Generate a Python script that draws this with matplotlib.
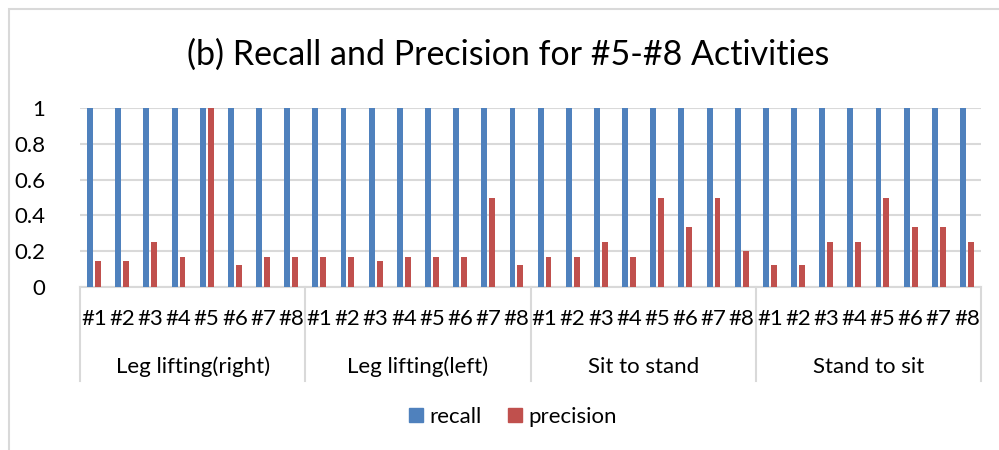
import matplotlib.pyplot as plt
import numpy as np
from matplotlib.patches import Rectangle, Patch

# data
groups = ["Leg lifting(right)", "Leg lifting(left)", "Sit to stand", "Stand to sit"]
subjects = ["#1", "#2", "#3", "#4", "#5", "#6", "#7", "#8"]
recall = [1.0] * 32
precision = [
    0.143, 0.143, 0.25, 0.167, 1.0, 0.125, 0.167, 0.167,   # leg lifting (right)
    0.167, 0.167, 0.143, 0.167, 0.167, 0.167, 0.5, 0.125,  # leg lifting (left)
    0.167, 0.167, 0.25, 0.167, 0.5, 0.333, 0.5, 0.2,       # sit to stand
    0.125, 0.125, 0.25, 0.25, 0.5, 0.333, 0.333, 0.25,     # stand to sit
]
yticks = [0, 0.2, 0.4, 0.6, 0.8, 1]

BLUE = "#4F81BD"
RED = "#C0504D"
GRID = "#D9D9D9"

plt.rcParams["font.family"] = ["Lato", "DejaVu Sans"]


def main():
    W, H = 999, 450
    fig = plt.figure(figsize=(W / 100, H / 100), dpi=100)

    # chart border (only left/top visible in the crop)
    fig.patches.append(Rectangle((9 / W, -0.1), 1.2, (H - 9) / H + 0.1,
                                 transform=fig.transFigure, fill=False,
                                 edgecolor=GRID, lw=1.5))

    ax = fig.add_axes([80 / W, 1 - 287 / H, 901 / W, 179 / H])

    n = len(recall)
    x = np.arange(n)
    bw = 0.21
    ax.bar(x - 0.14, recall, bw, color=BLUE, zorder=3)
    ax.bar(x + 0.14, precision, bw, color=RED, zorder=3)

    ax.set_xlim(-0.5, n - 0.5)
    ax.set_ylim(0, 1)
    ax.set_yticks(yticks)
    ax.set_yticklabels([f"{v:g}" for v in yticks])
    ax.yaxis.grid(True, color=GRID, lw=1.5, zorder=0)
    ax.set_axisbelow(True)
    for s in ["top", "right", "left"]:
        ax.spines[s].set_visible(False)
    ax.spines["bottom"].set_color(GRID)
    ax.spines["bottom"].set_linewidth(1.5)

    ax.set_xticks(x)
    ax.set_xticklabels(subjects * len(groups))
    ax.tick_params(axis="x", length=0, pad=15.5, labelsize=16)
    ax.tick_params(axis="y", length=0, pad=25, labelsize=16)

    # group labels and separators under the axis
    per = len(subjects)
    trans = ax.get_xaxis_transform()
    for i, g in enumerate(groups):
        ax.text(i * per + (per - 1) / 2, -0.448, g, transform=trans,
                ha="center", va="center", fontsize=16)
    for b in range(len(groups) + 1):
        ax.plot([b * per - 0.5] * 2, [0, -0.525], transform=trans,
                color=GRID, lw=1.5, clip_on=False)

    fig.text(508 / W, 1 - 55 / H, "(b) Recall and Precision for #5-#8 Activities",
             ha="center", va="center", fontsize=24.5)

    handles = [Patch(color=BLUE, label="recall"), Patch(color=RED, label="precision")]
    fig.legend(handles=handles, loc="center", bbox_to_anchor=(513 / W, 1 - 417 / H),
               ncol=2, frameon=False, fontsize=16, handlelength=0.6,
               handleheight=0.6, handletextpad=0.3, columnspacing=1.2)

    fig.savefig("out.png", dpi=100)


if __name__ == "__main__":
    main()
